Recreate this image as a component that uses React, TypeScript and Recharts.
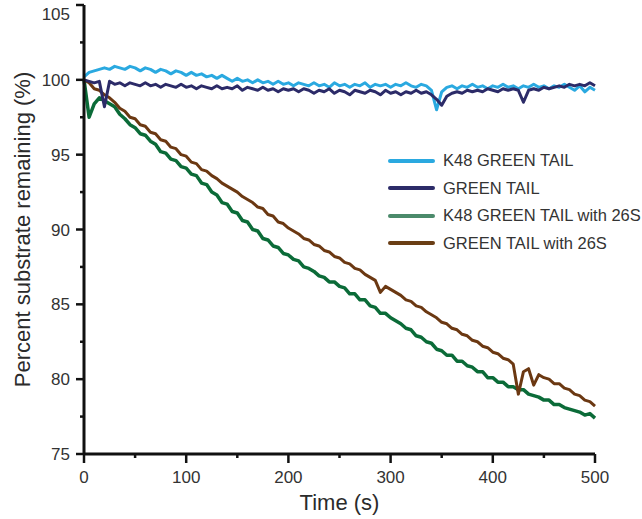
import React from 'react';
import { LineChart, Line, XAxis, YAxis } from 'recharts';

// Time points (s)
const TIME = [
  0, 5, 10, 15, 20, 25, 30, 35, 40, 45, 50, 55, 60, 65, 70, 75, 80, 85, 90, 95,
  100, 105, 110, 115, 120, 125, 130, 135, 140, 145, 150, 155, 160, 165, 170, 175, 180, 185, 190, 195,
  200, 205, 210, 215, 220, 225, 230, 235, 240, 245, 250, 255, 260, 265, 270, 275, 280, 285, 290, 295,
  300, 305, 310, 315, 320, 325, 330, 335, 340, 345, 350, 355, 360, 365, 370, 375, 380, 385, 390, 395,
  400, 405, 410, 415, 420, 425, 430, 435, 440, 445, 450, 455, 460, 465, 470, 475, 480, 485, 490, 495,
  500,
];

// Percent substrate remaining
const K48_GREEN_TAIL = [
  100.2, 100.5, 100.6, 100.7, 100.8, 100.7, 100.9, 100.8, 100.7, 100.9, 100.8, 100.6, 100.8, 100.7, 100.5, 100.7, 100.6, 100.4, 100.6, 100.5,
  100.3, 100.5, 100.3, 100.4, 100.2, 100.3, 100.1, 100.3, 100.1, 99.9, 100.1, 99.9, 100.0, 99.8, 100.0, 99.8, 99.9, 99.7, 99.9, 99.7,
  99.8, 99.6, 99.8, 99.7, 99.6, 99.8, 99.6, 99.7, 99.5, 99.8, 99.6, 99.7, 99.5, 99.7, 99.6, 99.8, 99.5, 99.7, 99.6, 99.7,
  99.5, 99.7, 99.6, 99.8, 99.6, 99.5, 99.7, 99.6, 99.3, 98.0, 99.2, 99.5, 99.6, 99.4, 99.6, 99.5, 99.7, 99.5, 99.6, 99.4,
  99.6, 99.5, 99.7, 99.5, 99.6, 99.4, 99.6, 99.5, 99.7, 99.5, 99.6, 99.4, 99.6, 99.5, 99.7, 99.5, 99.3, 99.6, 99.2, 99.5,
  99.3,
];

const GREEN_TAIL = [
  100.0, 99.9, 99.8, 99.9, 98.2, 99.9, 99.7, 99.8, 99.6, 99.8, 99.7, 99.6, 99.8, 99.6, 99.7, 99.5, 99.7, 99.6, 99.5, 99.7,
  99.5, 99.6, 99.4, 99.6, 99.5, 99.4, 99.6, 99.4, 99.5, 99.4, 99.6, 99.3, 99.5, 99.4, 99.3, 99.5, 99.3, 99.4, 99.2, 99.4,
  99.3, 99.4, 99.2, 99.4, 99.3, 99.1, 99.3, 99.2, 99.4, 99.1, 99.3, 99.2, 99.0, 99.3, 99.2, 99.1, 99.3, 99.2, 99.0, 99.3,
  99.1, 99.2, 99.0, 99.2, 99.1, 99.3, 99.1, 99.2, 99.0, 98.7, 98.3, 98.9, 99.1, 99.2, 99.1, 99.3, 99.2, 99.3, 99.2, 99.4,
  99.3, 99.2, 99.4, 99.3, 99.4, 99.3, 98.5, 99.3, 99.4, 99.3, 99.5, 99.4, 99.5, 99.6, 99.5, 99.7, 99.6, 99.7, 99.6, 99.8,
  99.6,
];

const K48_GREEN_TAIL_26S = [
  100.0, 97.5, 98.4, 98.8, 98.6, 98.4, 98.2, 97.7, 97.4, 97.0, 96.8, 96.4, 96.3, 95.9, 95.7, 95.2, 95.1, 94.7, 94.6, 94.2,
  94.1, 93.7, 93.6, 93.1, 93.0, 92.5, 92.3, 91.8, 91.7, 91.2, 91.1, 90.6, 90.5, 90.0, 89.9, 89.4, 89.3, 88.9, 88.8, 88.4,
  88.3, 88.0, 87.9, 87.5, 87.4, 87.2, 86.9, 86.8, 86.5, 86.5, 86.2, 86.1, 85.7, 85.7, 85.3, 85.3, 84.9, 84.8, 84.4, 84.4,
  84.1, 83.9, 83.7, 83.4, 83.3, 82.9, 82.8, 82.5, 82.4, 82.0, 81.9, 81.6, 81.6, 81.2, 81.2, 80.9, 80.8, 80.5, 80.5, 80.1,
  80.1, 79.8, 79.8, 79.5, 79.5, 79.3, 79.3, 79.0, 78.9, 78.8, 78.6, 78.6, 78.3, 78.3, 78.1, 78.0, 77.9, 77.8, 77.6, 77.7,
  77.4,
];

const GREEN_TAIL_26S = [
  100.0, 99.8, 99.4, 99.3, 99.0, 98.8, 98.5, 98.1, 97.9, 97.5, 97.4, 97.0, 96.9, 96.5, 96.4, 96.0, 95.9, 95.5, 95.4, 95.0,
  94.9, 94.5, 94.4, 94.0, 93.9, 93.6, 93.4, 93.1, 92.9, 92.7, 92.5, 92.2, 92.0, 91.8, 91.5, 91.4, 91.0, 90.9, 90.5, 90.4,
  90.1, 89.9, 89.7, 89.4, 89.3, 89.0, 88.9, 88.6, 88.5, 88.2, 88.1, 87.8, 87.7, 87.4, 87.3, 87.0, 86.8, 86.6, 85.8, 86.2,
  86.0, 85.8, 85.6, 85.3, 85.2, 84.9, 84.8, 84.5, 84.3, 84.1, 83.8, 83.7, 83.4, 83.3, 83.0, 82.9, 82.6, 82.5, 82.2, 82.1,
  81.8, 81.7, 81.4, 81.3, 81.0, 79.0, 80.5, 80.7, 79.6, 80.3, 80.1, 80.0, 79.7, 79.7, 79.4, 79.3, 79.0, 78.9, 78.6, 78.5,
  78.2,
];

const X_TICKS = [0, 50, 100, 150, 200, 250, 300, 350, 400, 450, 500];
const Y_TICKS = [75, 77.5, 80, 82.5, 85, 87.5, 90, 92.5, 95, 97.5, 100, 102.5, 105];

const FONT = '"Liberation Sans", Arial, sans-serif';
const X_TICK_SIZE = 9;
const X_TICK_MARGIN = 8;
const Y_TICK_SIZE = 8;
const Y_TICK_MARGIN = 6;

// legend order differs from draw order
const SERIES = [
  { key: 'k48', name: 'K48 GREEN TAIL', color: '#2aa9e0', swatch: '#2aa9e0', width: 3 },
  { key: 'gt', name: 'GREEN TAIL', color: '#2c2b68', swatch: '#2c2b68', width: 3 },
  { key: 'k48s', name: 'K48 GREEN TAIL with 26S', color: '#0b6b38', swatch: '#4b8a6b', width: 3.5 },
  { key: 'gts', name: 'GREEN TAIL with 26S', color: '#6b3812', swatch: '#6a3e15', width: 3 },
];
const DRAW_ORDER = ['k48', 'k48s', 'gts', 'gt'];

const data = TIME.map((t, i) => ({
  t,
  k48: K48_GREEN_TAIL[i],
  gt: GREEN_TAIL[i],
  k48s: K48_GREEN_TAIL_26S[i],
  gts: GREEN_TAIL_26S[i],
}));

function XTick(props: any) {
  const { x, y, payload } = props;
  const axisY = y - X_TICK_SIZE - X_TICK_MARGIN;
  const major = payload.value % 100 === 0;
  return (
    <g>
      <line x1={x} x2={x} y1={axisY} y2={axisY + (major ? X_TICK_SIZE : 4)} stroke="#111" strokeWidth={2.5} />
      {major && (
        <text x={x} y={y} dy="0.71em" textAnchor="middle" fill="#333" fontSize={17} fontFamily={FONT}>
          {payload.value}
        </text>
      )}
    </g>
  );
}

function YTick(props: any) {
  const { x, y, payload } = props;
  const axisX = x + Y_TICK_SIZE + Y_TICK_MARGIN;
  const major = payload.value % 5 === 0;
  return (
    <g>
      <line x1={axisX - (major ? Y_TICK_SIZE : 4)} x2={axisX} y1={y} y2={y} stroke="#111" strokeWidth={2.5} />
      {major && (
        // keep the top label inside the frame
        <text x={x} y={Math.max(y, 14)} dy="0.36em" textAnchor="end" fill="#333" fontSize={17} fontFamily={FONT}>
          {payload.value}
        </text>
      )}
    </g>
  );
}

function LegendBox() {
  return (
    <div style={{ position: 'absolute', left: 388, top: 147, fontFamily: FONT, fontSize: 16.5, color: '#333' }}>
      {SERIES.map((s) => (
        <div key={s.key} style={{ display: 'flex', alignItems: 'center', height: 27.5 }}>
          <div style={{ width: 47, height: 4, borderRadius: 2, background: s.swatch, marginRight: 8 }} />
          <span style={{ whiteSpace: 'nowrap' }}>{s.name}</span>
        </div>
      ))}
    </div>
  );
}

export default function App() {
  return (
    <div style={{ position: 'fixed', left: 0, top: 0, width: 642, height: 519, background: '#fff' }}>
      <LineChart width={642} height={519} data={data} margin={{ top: 5, right: 47, bottom: 0, left: 0 }}>
        <XAxis
          dataKey="t"
          type="number"
          domain={[0, 500]}
          ticks={X_TICKS}
          interval={0}
          height={65}
          tickSize={X_TICK_SIZE}
          tickMargin={X_TICK_MARGIN}
          tickLine={false}
          tick={<XTick />}
          axisLine={{ stroke: '#111', strokeWidth: 3 }}
          label={{
            value: 'Time (s)',
            position: 'insideBottom',
            offset: 9,
            style: { fontFamily: FONT, fontSize: 22, fill: '#2b2b2b' },
          }}
        />
        <YAxis
          type="number"
          domain={[75, 105]}
          ticks={Y_TICKS}
          interval={0}
          width={84}
          tickSize={Y_TICK_SIZE}
          tickMargin={Y_TICK_MARGIN}
          tickLine={false}
          tick={<YTick />}
          axisLine={{ stroke: '#111', strokeWidth: 3 }}
          label={{
            value: 'Percent substrate remaining (%)',
            angle: -90,
            position: 'insideLeft',
            offset: 22,
            style: { fontFamily: FONT, fontSize: 22, fill: '#2b2b2b', textAnchor: 'middle' },
          }}
        />
        {DRAW_ORDER.map((k) => {
          const s = SERIES.find((d) => d.key === k)!;
          return (
            <Line
              key={s.key}
              type="linear"
              dataKey={s.key}
              name={s.name}
              stroke={s.color}
              strokeWidth={s.width}
              strokeLinejoin="round"
              dot={false}
              activeDot={false}
              isAnimationActive={false}
            />
          );
        })}
      </LineChart>
      <LegendBox />
    </div>
  );
}
